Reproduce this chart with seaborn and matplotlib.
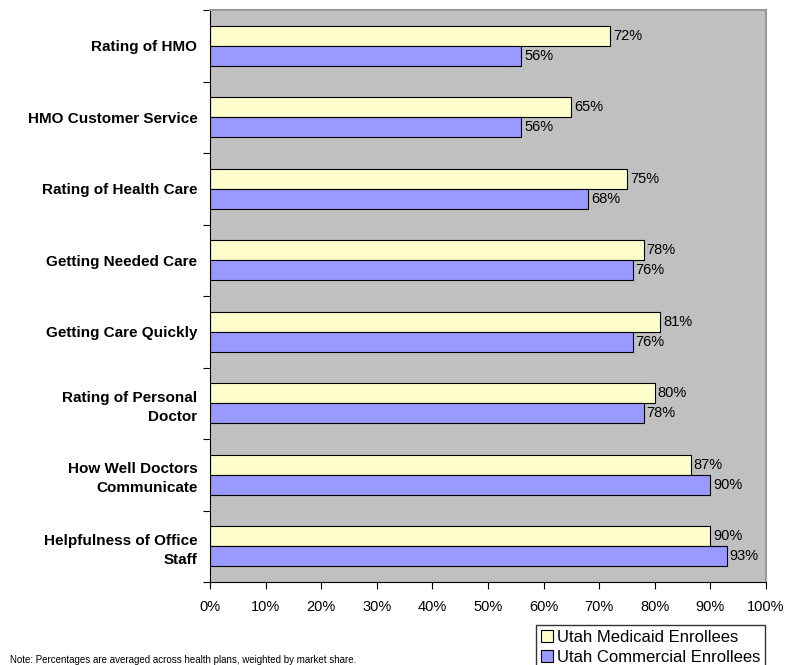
import matplotlib
matplotlib.use("Agg")
import matplotlib.pyplot as plt
import seaborn as sns
import pandas as pd
from matplotlib.patches import Patch

categories = ["Rating of HMO", "HMO Customer Service", "Rating of Health Care",
              "Getting Needed Care", "Getting Care Quickly",
              "Rating of Personal\nDoctor", "How Well Doctors\nCommunicate",
              "Helpfulness of Office\nStaff"]
medicaid = [72, 65, 75, 78, 81, 80, 86.5, 90]
commercial = [56, 56, 68, 76, 76, 78, 90, 93]
medicaid_labels = ["72%", "65%", "75%", "78%", "81%", "80%", "87%", "90%"]
commercial_labels = ["56%", "56%", "68%", "76%", "76%", "78%", "90%", "93%"]
series = ["Utah Medicaid Enrollees", "Utah Commercial Enrollees"]
xticks = [0, 10, 20, 30, 40, 50, 60, 70, 80, 90, 100]

df = pd.DataFrame({
    "Category": categories * 2,
    "Value": medicaid + commercial,
    "Series": [series[0]] * len(categories) + [series[1]] * len(categories),
})

sns.set_style("white")
plt.rcParams['font.family'] = ['Liberation Sans', 'DejaVu Sans']
plt.rcParams['text.color'] = 'black'
plt.rcParams['xtick.color'] = 'black'
plt.rcParams['ytick.color'] = 'black'
plt.rcParams['axes.labelcolor'] = 'black'

fig = plt.figure(figsize=(8.04, 6.65), dpi=100)
ax = fig.add_axes([210/804, 1-582/665, (766-210)/804, (582-10)/665])
colors = ["#FFFFCC", "#9999FF"]
sns.barplot(data=df, y="Category", x="Value", hue="Series", orient="h",
            palette=colors, width=0.56, edgecolor="black", linewidth=0.8,
            ax=ax, legend=False, saturation=1)
ax.set_facecolor("#C0C0C0")
ax.set_xlim(0, 100)
ax.set_ylim(len(categories) - 0.5, -0.5)
ax.set_xticks(xticks)
ax.set_xticklabels([f"{t}%" for t in xticks], fontsize=10.5)
ax.set_yticks(range(len(categories)))
ax.set_yticklabels(categories, fontsize=11, fontweight="bold", linespacing=1.45)
ax.set_xlabel("")
ax.set_ylabel("")
ax.tick_params(axis="y", length=0, pad=9)
ax.tick_params(axis="x", length=5, width=0.8, color="black", pad=8, direction="out", bottom=True)
ax.set_yticks([i - 0.5 for i in range(len(categories) + 1)], minor=True)
ax.tick_params(axis="y", which="minor", length=5, width=0.8, color="black", left=True)
for s in ["left", "bottom"]:
    ax.spines[s].set_color("black")
    ax.spines[s].set_linewidth(0.8)
for s in ["top", "right"]:
    ax.spines[s].set_color("#999999")
    ax.spines[s].set_linewidth(1.5)

labels_list = [medicaid_labels, commercial_labels]
for cont, labs in zip(ax.containers, labels_list):
    ax.bar_label(cont, labels=labs, padding=2, fontsize=10.5)

handles = [Patch(facecolor=c, edgecolor="black", linewidth=0.8) for c in colors]
fig.legend(handles, series, loc="upper left", bbox_to_anchor=(536/804, 1-625/665),
           frameon=True, fancybox=False, edgecolor="black", fontsize=12,
           handlelength=0.7, handleheight=0.7, handletextpad=0.25,
           borderpad=0.3, labelspacing=0.3, borderaxespad=0)
fig.text(10/804, 1-660/665, "Note: Percentages are averaged across health plans, weighted by market share.",
         fontsize=7, va="center")

fig.savefig("out.png", dpi=100)
